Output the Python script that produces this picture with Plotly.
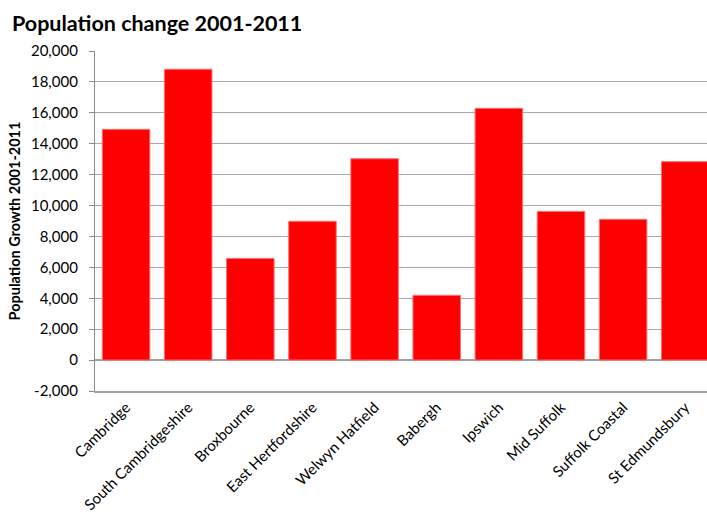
import plotly.graph_objects as go

categories = ["Cambridge", "South Cambridgeshire", "Broxbourne", "East Hertfordshire",
              "Welwyn Hatfield", "Babergh", "Ipswich", "Mid Suffolk", "Suffolk Coastal",
              "St Edmundsbury"]
growth = [14930, 18820, 6580, 8980, 13030, 4190, 16290, 9620, 9110, 12840]
y_ticks = list(range(-2000, 20001, 2000))
y_tick_labels = [f"{v:,}" for v in y_ticks]

font = "Lato, 'Open Sans', sans-serif"

fig = go.Figure(go.Bar(
    x=categories, y=growth,
    marker=dict(color="#ff0000", line=dict(color="#ff7070", width=1)),
))

fig.update_layout(
    width=707, height=515,
    margin=dict(l=95, r=0, t=51, b=124),
    paper_bgcolor="white", plot_bgcolor="white",
    bargap=0.235,
    showlegend=False,
    font=dict(family=font, color="black"),
    title=dict(text="<b>Population change 2001-2011</b>", x=12/707, xanchor="left",
               xref="container", y=1-23/515, yanchor="middle", yref="container",
               font=dict(size=21.5, family=font, color="black")),
)

fig.update_xaxes(
    range=[-0.5, 9.35], tickangle=-45, tickfont=dict(size=15, family=font),
    showline=True, linecolor="#a0a0a0", linewidth=1.5, ticks="", showgrid=False,
    automargin=False,
)
fig.update_yaxes(
    range=[-2000, 20000], tickvals=y_ticks, ticktext=y_tick_labels,
    tickfont=dict(size=15, family=font),
    showgrid=True, gridcolor="#a8a8a8", gridwidth=1.3,
    zeroline=True, zerolinecolor="#a0a0a0", zerolinewidth=1.5,
    showline=True, linecolor="#8a8a8a", linewidth=1.3,
    ticks="outside", ticklen=5, tickcolor="#8a8a8a", ticklabelstandoff=8,
    automargin=False,
    title=dict(text="<b>Population Growth 2001-2011</b>", font=dict(size=14.5, family=font),
               standoff=6),
)

fig.write_html("out.html")
